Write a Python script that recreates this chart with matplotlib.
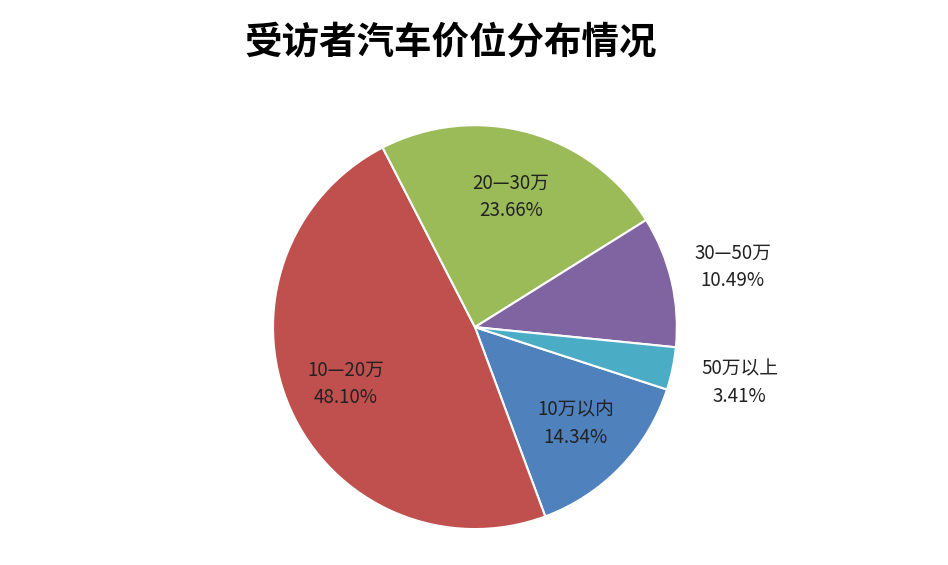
import matplotlib
matplotlib.use("Agg")
import matplotlib.pyplot as plt
import numpy as np

plt.rcParams['font.family'] = ['Noto Sans CJK SC', 'DejaVu Sans']

categories = ["10万以内", "10—20万", "20—30万", "30—50万", "50万以上"]
values = [14.34, 48.10, 23.66, 10.49, 3.41]
colors = ["#4F81BD", "#C0504D", "#9BBB59", "#8064A2", "#4BACC6"]
label_dist = [0.69, 0.70, 0.67, 1.31, 1.34]

fig = plt.figure(figsize=(9.48, 5.65), dpi=100)
ax = fig.add_axes([0.501 - 0.213, 0.421 - 0.3575, 0.426, 0.715])
wedges, _ = ax.pie(values, colors=colors, startangle=-18, counterclock=False,
                   wedgeprops=dict(edgecolor="white", linewidth=1.5))
ax.set_aspect('equal')
ax.set_xlim(-1, 1)
ax.set_ylim(-1, 1)
for w, c, v, d in zip(wedges, categories, values, label_dist):
    ang = np.deg2rad((w.theta1 + w.theta2) / 2)
    ax.text(d * np.cos(ang), d * np.sin(ang), f"{c}\n{v:.2f}%", ha='center', va='center',
            fontsize=13.5, color='#222222', linespacing=1.4, clip_on=False)
fig.text(0.475, 0.925, "受访者汽车价位分布情况", ha='center', va='center',
         fontsize=27, fontweight='bold')
fig.savefig("out.png", dpi=100)
